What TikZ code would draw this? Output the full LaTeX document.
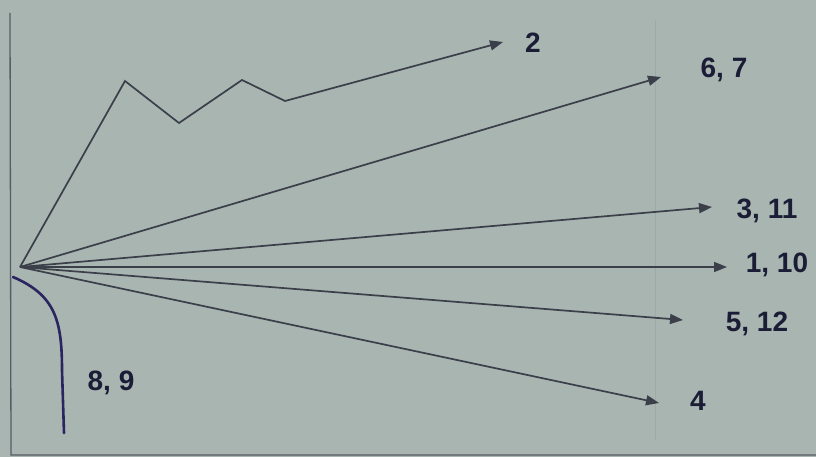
\documentclass[tikz,border=0pt]{standalone}
\usepackage{fontspec}
\setmainfont{Liberation Sans}
\usetikzlibrary{arrows.meta}
\definecolor{paper}{HTML}{A9B5B0}
\definecolor{ink}{HTML}{3A3F4A}
\definecolor{pen}{HTML}{1A1D35}
\definecolor{curveink}{HTML}{2A2460}
\tikzset{
  ray/.style={draw=ink, line width=1.7pt, -{Triangle[length=13pt,width=10pt]}},
  lbl/.style={text=pen, font=\fontsize{28}{30}\selectfont\bfseries, inner sep=0pt, anchor=center},
  axis/.style={draw=ink!85, line width=1.3pt}
}
\begin{document}
\begin{tikzpicture}[x=1pt,y=-1pt]
\fill[paper] (0,0) rectangle (816,457);
\useasboundingbox (0,0) rectangle (816,457);
% faint pencil guide
\draw[paper!94!black, line width=0.6pt] (655,20) -- (655,440);
% axes
\coordinate (axtop) at (10,13);
\coordinate (axcorner) at (11,455);
\coordinate (axright) at (816,455);
\draw[axis] (axtop) -- (axcorner) -- (axright);
% origin
\coordinate (O) at (20,267);
% bends of path 2
\coordinate (p1) at (125,81);
\coordinate (p2) at (179,123);
\coordinate (p3) at (242,80);
\coordinate (p4) at (285,101);
% tips
\coordinate (t2) at (503,42);
\coordinate (t67) at (661,77);
\coordinate (t311) at (712,207);
\coordinate (t110) at (727,267);
\coordinate (t512) at (683,320);
\coordinate (t4) at (659,403);
% labels
\node[lbl] (l2) at (533,43) {2};
\node[lbl] (l67) at (724,70) {6, 7};
\node[lbl] (l311) at (767,211) {3, 11};
\node[lbl] (l110) at (777,265) {1, 10};
\node[lbl] (l512) at (757,324) {5, 12};
\node[lbl] (l4) at (698,401) {4};
\node[lbl] (l89) at (111,383) {8, 9};
% rays
\draw[ray] (O) -- (p1) -- (p2) -- (p3) -- (p4) -- (t2);
\draw[ray] (O) -- (t67);
\draw[ray] (O) -- (t311);
\draw[ray] (O) -- (t110);
\draw[ray] (O) -- (t512);
\draw[ray] (O) -- (t4);
% curve 8,9
\coordinate (c0) at (13,277);
\coordinate (c1) at (64,433);
\draw[curveink, line width=2.6pt, line cap=round] (c0) .. controls (55,295) and (62,320) .. (62,370) -- (c1);
\end{tikzpicture}
\end{document}
